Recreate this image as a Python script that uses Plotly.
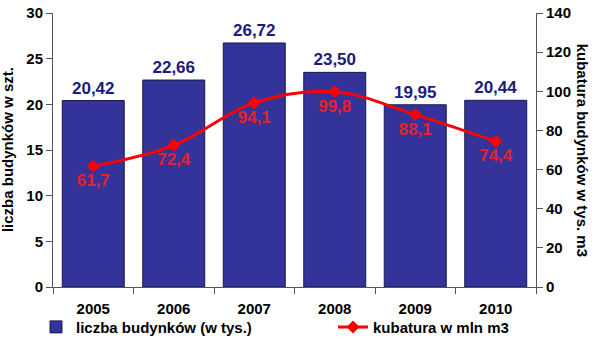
import plotly.graph_objects as go

years = ["2005", "2006", "2007", "2008", "2009", "2010"]
buildings = [20.42, 22.66, 26.72, 23.50, 19.95, 20.44]
volume = [61.7, 72.4, 94.1, 99.8, 88.1, 74.4]
bar_labels = ["20,42", "22,66", "26,72", "23,50", "19,95", "20,44"]
line_labels = ["61,7", "72,4", "94,1", "99,8", "88,1", "74,4"]

FONT = "Liberation Sans, Arial, sans-serif"

fig = go.Figure()
fig.add_trace(go.Bar(
    x=years, y=buildings, name="liczba budynków (w tys.)",
    marker=dict(color="#333399", line=dict(color="#1a1a4d", width=1)),
    text=bar_labels, textposition="outside", cliponaxis=False,
    textfont=dict(family=FONT, size=17, color="#1a1a80", weight="bold"),
    legend="legend",
))
fig.add_trace(go.Scatter(
    x=years, y=volume, name="kubatura w mln m3", yaxis="y2",
    mode="lines+markers+text",
    line=dict(color="#ff0000", width=3, shape="spline", smoothing=1),
    marker=dict(symbol="diamond", size=10, color="#ff0000"),
    text=line_labels, textposition="bottom center",
    textfont=dict(family=FONT, size=17, color="#e8202a", weight="bold"),
    legend="legend2",
))

tickfont = dict(family=FONT, size=15, color="black", weight="bold")
legfont = dict(family=FONT, size=15, color="black", weight="bold")
fig.update_layout(
    width=600, height=351,
    margin=dict(l=53, r=64, t=13, b=64, autoexpand=False),
    paper_bgcolor="white", plot_bgcolor="white",
    font=dict(family=FONT, color="black"),
    bargap=0.23,
    showlegend=True,
    legend=dict(orientation="h", xref="container", yref="container",
                x=0.06, xanchor="left", y=0.068, yanchor="middle",
                font=legfont, itemwidth=30, bgcolor="rgba(0,0,0,0)"),
    legend2=dict(orientation="h", xref="container", yref="container",
                 x=0.555, xanchor="left", y=0.068, yanchor="middle",
                 font=legfont, itemwidth=30, bgcolor="rgba(0,0,0,0)"),
    xaxis=dict(showline=True, linecolor="#555", linewidth=1, ticks="outside",
               tickson="boundaries", ticklen=6, tickcolor="#555",
               tickfont=tickfont, showgrid=False, ticklabelstandoff=8),
    yaxis=dict(range=[0, 30], dtick=5, showline=True, linecolor="#555",
               ticks="outside", ticklen=6, tickcolor="#555", showgrid=False,
               tickfont=tickfont, zeroline=False),
    yaxis2=dict(range=[0, 140], dtick=20, overlaying="y", side="right",
                showline=True, linecolor="#555", ticks="outside", ticklen=6,
                tickcolor="#555", showgrid=False, tickfont=tickfont, zeroline=False),
    annotations=[
        dict(text="<b>liczba budynków w szt.</b>", xref="paper", yref="paper",
             x=-0.095, y=0.5, textangle=-90, showarrow=False,
             xanchor="center", yanchor="middle",
             font=dict(family=FONT, size=15, color="black")),
        dict(text="<b>kubatura budynków w tys. m3</b>", xref="paper", yref="paper",
             x=1.098, y=0.5, textangle=90, showarrow=False,
             xanchor="center", yanchor="middle",
             font=dict(family=FONT, size=15, color="black")),
    ],
)
fig.write_html("out.html")
